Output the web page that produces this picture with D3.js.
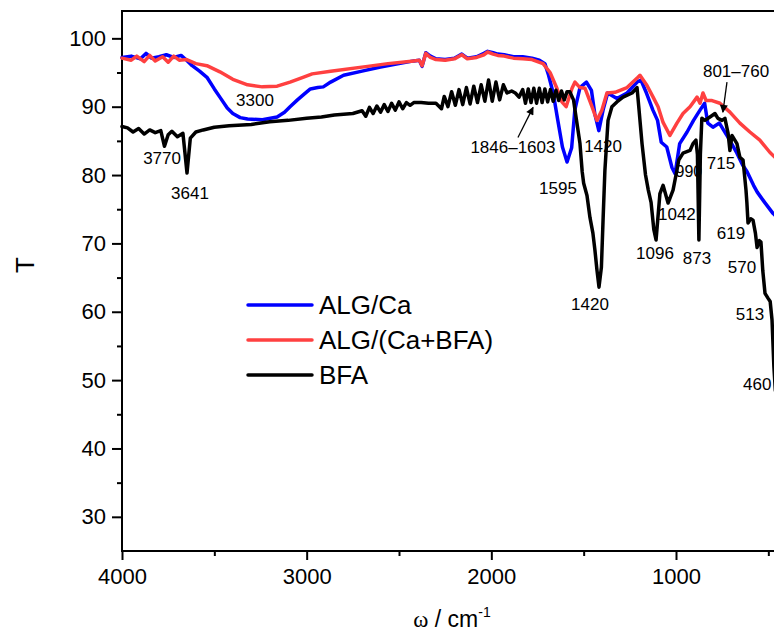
<!DOCTYPE html>
<html>
<head>
<meta charset="utf-8">
<script src="https://cdn.jsdelivr.net/npm/d3@7"></script>
<style>
  body { margin: 0; background: #fff; }
  svg { font-family: "Liberation Sans", Arial, sans-serif; }
</style>
</head>
<body>
<svg width="774" height="634"></svg>
<script>
// spectra, [wavenumber, T]
var algCa = [
  [4000, 97.2], [3950, 97.4], [3900, 97.0], [3870, 97.8], [3840, 97.1], [3800, 97.3], [3760, 97.6],
  [3720, 97.2], [3680, 97.5], [3650, 96.8], [3620, 96.0], [3580, 95.2], [3540, 94.3], [3500, 92.6],
  [3470, 91.4], [3430, 89.8], [3400, 89.0], [3360, 88.4], [3320, 88.2], [3240, 88.1], [3160, 88.5],
  [3120, 89.2], [3090, 90.0], [3050, 91.0], [3020, 91.7], [2980, 92.6], [2940, 92.8], [2910, 92.9],
  [2870, 93.6], [2800, 94.6], [2700, 95.2], [2600, 95.8], [2500, 96.3], [2420, 96.7], [2390, 96.8],
  [2375, 95.9], [2355, 97.9], [2330, 97.4], [2300, 97.0], [2250, 96.9], [2200, 97.1], [2160, 97.7],
  [2130, 97.1], [2080, 97.3], [2040, 97.8], [2020, 98.1], [1990, 97.9], [1965, 97.7], [1930, 97.6],
  [1880, 97.3], [1830, 97.3], [1780, 97.1], [1740, 96.8], [1710, 96.3], [1690, 94.6], [1665, 92.0],
  [1640, 88.0], [1615, 84.1], [1590, 81.9], [1565, 84.0], [1548, 89.5], [1520, 92.8], [1485, 93.6],
  [1458, 92.4], [1440, 89.0], [1418, 86.5], [1395, 89.5], [1370, 92.0], [1320, 91.2], [1265, 92.0],
  [1210, 93.6], [1190, 93.9], [1160, 92.0], [1125, 89.5], [1100, 88.0], [1080, 84.8], [1050, 84.1],
  [1022, 81.1], [1005, 80.2], [980, 84.6], [940, 86.3], [905, 88.0], [870, 89.5], [845, 90.5],
  [828, 87.6], [800, 87.0], [765, 87.6], [718, 85.5], [670, 83.2], [640, 81.5], [615, 80.5],
  [580, 78.5], [560, 77.5], [520, 76.0], [475, 74.4], [460, 74.0]
];

var algCaBfa = [
  [4000, 97.1], [3950, 96.8], [3920, 97.4], [3880, 96.6], [3850, 97.5], [3820, 96.7], [3780, 97.3],
  [3750, 96.5], [3720, 97.4], [3690, 96.8], [3650, 96.9], [3600, 96.3], [3540, 96.0], [3470, 95.1],
  [3400, 94.0], [3320, 93.2], [3240, 92.9], [3160, 93.0], [3090, 93.6], [3020, 94.3], [2970, 94.8],
  [2870, 95.2], [2670, 95.9], [2560, 96.3], [2420, 96.7], [2390, 96.8], [2375, 96.0], [2355, 97.8],
  [2330, 97.2], [2300, 96.9], [2250, 96.8], [2200, 97.0], [2160, 97.6], [2130, 97.0], [2080, 97.2],
  [2040, 97.6], [2020, 98.0], [1990, 97.7], [1965, 97.5], [1930, 97.4], [1880, 97.1], [1830, 97.0],
  [1780, 96.9], [1720, 96.3], [1682, 95.0], [1645, 92.7], [1618, 90.7], [1595, 90.0], [1563, 92.7],
  [1547, 93.6], [1520, 92.8], [1493, 92.7], [1455, 90.0], [1428, 88.0], [1401, 89.5], [1374, 92.0],
  [1330, 92.1], [1265, 92.8], [1206, 94.3], [1195, 94.6], [1157, 93.1], [1124, 91.4], [1097, 90.0],
  [1070, 87.7], [1033, 85.8], [995, 87.6], [962, 89.0], [924, 90.0], [886, 91.4], [870, 90.5],
  [854, 92.0], [837, 90.9], [805, 90.9], [762, 90.5], [708, 89.2], [654, 87.6], [600, 86.3],
  [546, 85.1], [491, 83.3], [460, 82.5]
];

var bfa = [
  [4000, 87.1], [3970, 86.9], [3940, 86.3], [3910, 86.8], [3880, 86.0], [3850, 86.6], [3820, 86.2],
  [3790, 86.5], [3770, 84.2], [3750, 85.9], [3730, 86.4], [3700, 85.6], [3670, 86.1], [3648, 80.3],
  [3630, 85.4], [3600, 86.3], [3560, 86.6], [3500, 87.0], [3420, 87.2], [3300, 87.4], [3200, 87.8],
  [3100, 88.0], [3000, 88.3], [2920, 88.5], [2850, 88.8], [2750, 89.0], [2700, 89.4], [2680, 88.6],
  [2660, 89.9], [2640, 89.0], [2620, 90.1], [2600, 89.2], [2580, 90.3], [2560, 89.3], [2540, 90.5],
  [2520, 89.5], [2500, 90.7], [2480, 89.7], [2460, 90.6], [2440, 90.2], [2420, 90.6], [2380, 90.6],
  [2340, 90.5], [2300, 90.5], [2270, 89.7], [2255, 91.5], [2235, 90.0], [2215, 92.2], [2195, 90.2],
  [2175, 92.5], [2155, 90.3], [2135, 92.8], [2115, 90.4], [2095, 93.0], [2075, 90.6], [2055, 93.2],
  [2035, 90.8], [2015, 93.9], [1995, 90.8], [1975, 93.6], [1955, 91.0], [1935, 93.2], [1915, 92.0],
  [1890, 92.3], [1870, 92.0], [1850, 91.4], [1830, 92.5], [1815, 90.5], [1800, 92.6], [1785, 90.6],
  [1770, 92.7], [1755, 90.5], [1740, 92.7], [1725, 90.6], [1710, 92.6], [1695, 90.7], [1680, 92.5],
  [1665, 90.8], [1650, 92.4], [1635, 90.9], [1620, 92.3], [1605, 91.0], [1590, 92.2], [1575, 92.2],
  [1555, 91.0], [1547, 89.5], [1520, 84.6], [1508, 80.5], [1500, 78.8], [1482, 77.0], [1466, 73.8],
  [1450, 71.5], [1439, 69.0], [1428, 66.1], [1417, 63.6], [1404, 66.5], [1395, 73.4], [1385, 80.7],
  [1375, 85.0], [1368, 88.0], [1347, 90.0], [1320, 90.7], [1287, 91.4], [1238, 92.0], [1211, 92.8],
  [1200, 89.5], [1184, 84.6], [1165, 80.0], [1150, 77.8], [1135, 76.0], [1120, 72.0], [1108, 70.5],
  [1087, 77.3], [1070, 78.5], [1043, 75.9], [1016, 77.8], [995, 80.7], [985, 82.2], [962, 83.2],
  [924, 83.6], [908, 84.6], [892, 85.1], [884, 83.0], [876, 70.5], [868, 83.0], [860, 88.3],
  [843, 88.0], [816, 88.5], [789, 89.0], [773, 88.3], [751, 88.0], [735, 88.3], [718, 86.1],
  [708, 83.6], [697, 85.8], [670, 84.6], [654, 82.6], [637, 82.2], [621, 77.8], [616, 75.9],
  [610, 73.0], [595, 73.6], [583, 73.4], [570, 71.5], [561, 69.4], [548, 70.4], [540, 70.2],
  [530, 66.0], [518, 62.7], [502, 62.0], [490, 61.5], [480, 58.8], [470, 52.0], [462, 48.5]
];

var seriesNames = ["ALG/Ca", "ALG/(Ca+BFA)", "BFA"];
var seriesColors = ["#0000ff", "#ff4040", "#000000"];

var xTicks = [4000, 3000, 2000, 1000];
var xMinor = [3500, 2500, 1500, 500];
var yTicks = [30, 40, 50, 60, 70, 80, 90, 100];
var yMinor = [35, 45, 55, 65, 75, 85, 95];

// peak labels: [text, wavenumber, T] (centre of the text)
var peakLabels = [
  ["3300", 3280, 90.9], ["3770", 3783, 82.5], ["3641", 3632, 77.3],
  ["1420", 1395, 84.2], ["1595", 1639, 78.1], ["1420", 1466, 61.1],
  ["1096", 1114, 68.6], ["1042", 995, 74.3], ["873", 886, 67.8],
  ["990", 930, 80.6], ["715", 756, 81.7], ["619", 702, 71.5],
  ["570", 643, 66.5], ["513", 599, 59.7], ["460", 560, 49.4],
  ["1846\u20131603", 1883, 84.1], ["801\u2013760", 675, 95.2]
];
// arrows: [from w, from T, to w, to T]
var arrows = [[1856, 85.5, 1774, 89.9], [724, 93.6, 746, 89.2]];

var svg = d3.select("svg"),
    width = +svg.attr("width"),
    height = +svg.attr("height");

var x = d3.scaleLinear().domain([4000, 400]).range([122, 786.8]);
var y = d3.scaleLinear().domain([25, 104]).range([551, 11]);

var g = svg.append("g");

// x axis
g.append("g").attr("transform", "translate(0," + y(25) + ")")
  .call(d3.axisBottom(x).tickValues(xTicks).tickSize(9).tickPadding(8).tickFormat(d3.format("d")));
g.append("g").attr("transform", "translate(0," + y(25) + ")")
  .call(d3.axisBottom(x).tickValues(xMinor).tickSize(5).tickFormat(""));

// y axis
g.append("g").attr("transform", "translate(" + x(4000) + ",0)")
  .call(d3.axisLeft(y).tickValues(yTicks).tickSize(10).tickPadding(6));
g.append("g").attr("transform", "translate(" + x(4000) + ",0)")
  .call(d3.axisLeft(y).tickValues(yMinor).tickSize(5).tickFormat(""));

g.selectAll(".domain").remove();
g.selectAll(".tick line").attr("stroke-width", 2);
g.selectAll(".tick text").attr("font-size", 22).attr("fill", "#000")
  .attr("font-family", "Liberation Sans, Arial, sans-serif");

// frame: left, bottom, top (right side is past the image edge)
var frame = [[x(4000), y(25), width + 5, y(25)], [x(4000), y(25) + 1, x(4000), y(104) - 1], [x(4000), y(104), width + 5, y(104)]];
g.selectAll("line.frame").data(frame).enter().append("line").attr("class", "frame")
  .attr("x1", function (d) { return d[0]; }).attr("y1", function (d) { return d[1]; })
  .attr("x2", function (d) { return d[2]; }).attr("y2", function (d) { return d[3]; })
  .attr("stroke", "#000").attr("stroke-width", 2);

// axis titles
svg.append("text").attr("transform", "translate(34,265) rotate(-90)")
  .attr("text-anchor", "middle").attr("font-size", 26).text("T");

var xt = svg.append("text").attr("x", 452).attr("y", 627).attr("text-anchor", "middle").attr("font-size", 23);
xt.append("tspan").attr("font-family", "Liberation Serif, Times New Roman, serif").text("ω");
xt.append("tspan").text(" / cm");
xt.append("tspan").attr("font-size", 14).attr("dy", -10).text("-1");

// peak labels go under the curves
var labels = svg.append("g");
labels.selectAll("text").data(peakLabels).enter().append("text")
  .attr("x", function (d) { return x(d[1]); })
  .attr("y", function (d) { return y(d[2]); })
  .attr("text-anchor", "middle")
  .attr("dy", "0.35em")
  .attr("font-size", function (d) { return d[0] == "990" ? 16 : 17; })
  .text(function (d) { return d[0]; });

// curves
var line = d3.line()
  .x(function (d) { return x(d[0]); })
  .y(function (d) { return y(d[1]); });

svg.append("g").attr("fill", "none").attr("stroke-width", 3.5)
  .attr("stroke-linejoin", "round").attr("stroke-linecap", "round")
  .selectAll("path")
  .data([algCa, algCaBfa, bfa])
  .enter().append("path")
  .attr("stroke", function (d, i) { return seriesColors[i]; })
  .attr("d", line);

// arrows
var defs = svg.append("defs");
defs.append("marker").attr("id", "head").attr("viewBox", "0 0 10 10")
  .attr("refX", 9).attr("refY", 5).attr("markerWidth", 10).attr("markerHeight", 8)
  .attr("markerUnits", "userSpaceOnUse").attr("orient", "auto")
  .append("path").attr("d", "M0,0 L10,5 L0,10 z").attr("fill", "#000");

svg.append("g").selectAll("line").data(arrows).enter().append("line")
  .attr("x1", function (d) { return x(d[0]); }).attr("y1", function (d) { return y(d[1]); })
  .attr("x2", function (d) { return x(d[2]); }).attr("y2", function (d) { return y(d[3]); })
  .attr("stroke", "#000").attr("stroke-width", 1.3).attr("marker-end", "url(#head)");

// legend
var legend = svg.append("g").attr("transform", "translate(248,305)");
var item = legend.selectAll("g").data(seriesNames).enter().append("g")
  .attr("transform", function (d, i) { return "translate(0," + (i * 35) + ")"; });
item.append("line").attr("x1", 0).attr("x2", 64)
  .attr("stroke", function (d, i) { return seriesColors[i]; })
  .attr("stroke-width", 3.5).attr("stroke-linecap", "round");
item.append("text").attr("x", 71).attr("dy", "0.35em").attr("font-size", 26)
  .text(function (d) { return d; });
</script>
</body>
</html>
